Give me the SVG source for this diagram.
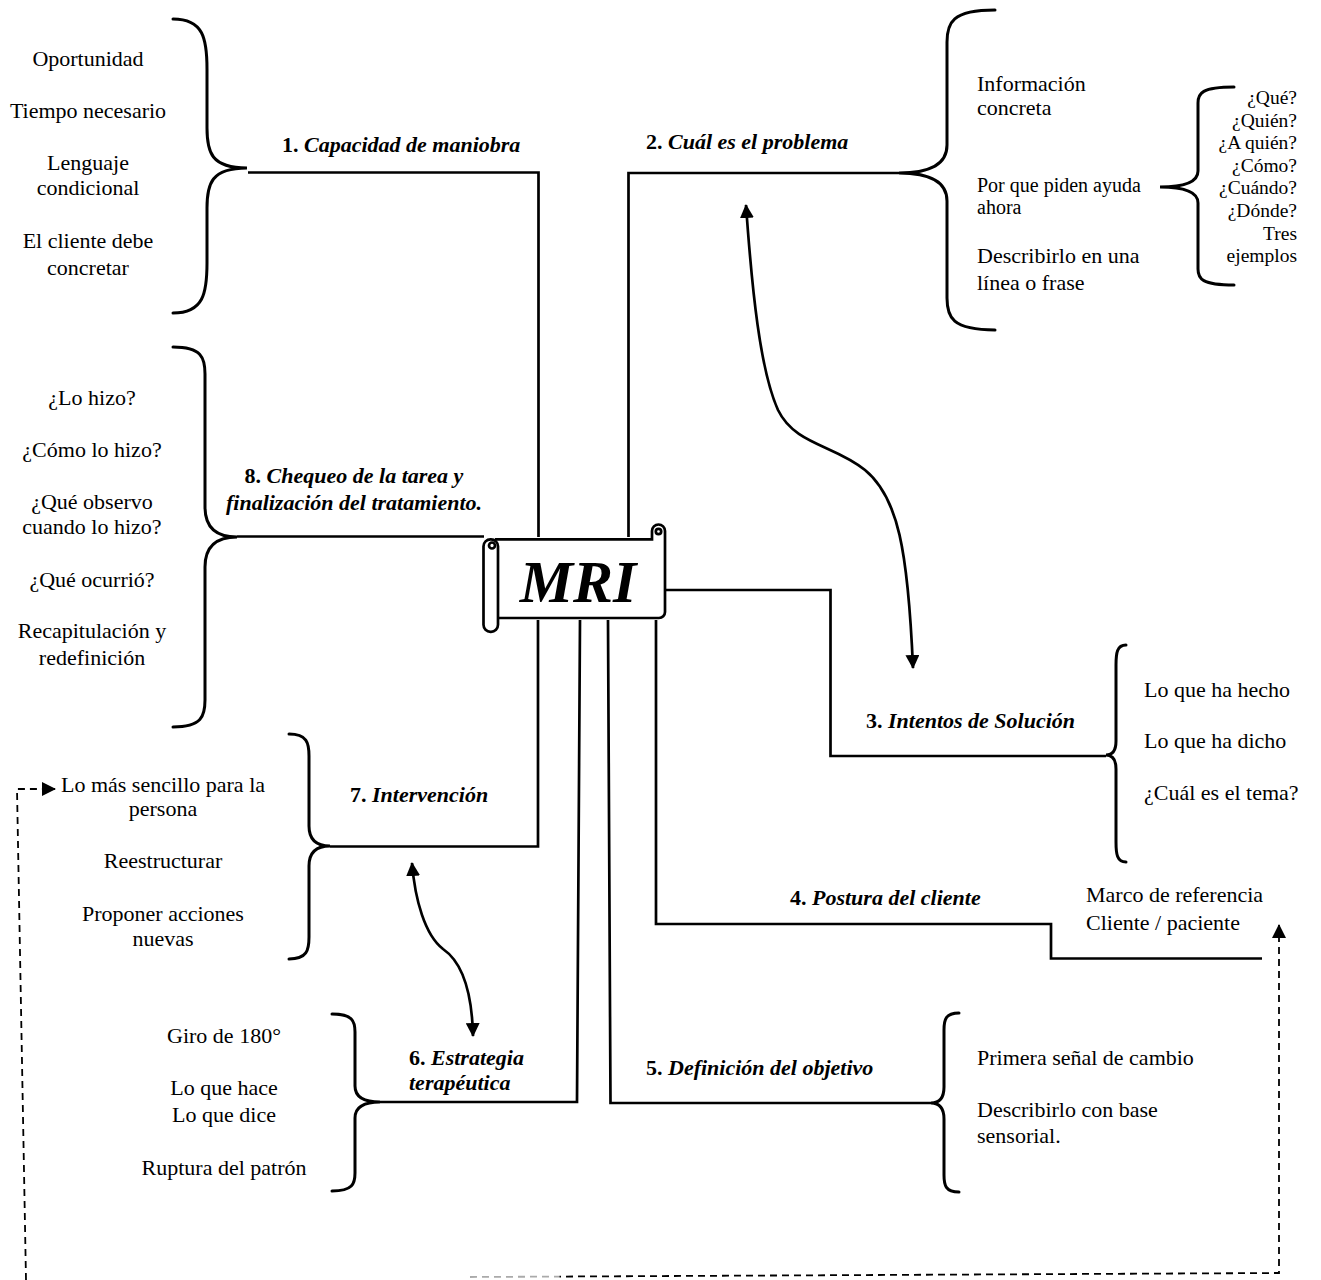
<svg xmlns="http://www.w3.org/2000/svg" width="1321" height="1280" viewBox="0 0 1321 1280">
<style>
.ln{fill:none;stroke:#000;stroke-width:2.7}
.br{fill:none;stroke:#000;stroke-width:3;stroke-linecap:round}
.dash{fill:none;stroke:#000;stroke-width:1.8;stroke-dasharray:7 5}
.t{font-family:"Liberation Serif","Times New Roman",serif;font-size:22px;fill:#000}
.c{text-anchor:middle}
.e{text-anchor:end}
.lab{font-weight:bold;font-style:italic}
.num{font-style:normal}
.sm{font-size:20px}
.xs{font-size:19.5px}
</style>
<defs>
<marker id="ah" viewBox="0 0 14 14" refX="13" refY="7" markerWidth="14" markerHeight="14" markerUnits="userSpaceOnUse" orient="auto-start-reverse">
<path d="M0,0 L14,7 L0,14 z" fill="#000"/>
</marker>
<linearGradient id="fade" gradientUnits="userSpaceOnUse" x1="470" y1="0" x2="560" y2="0">
<stop offset="0" stop-color="#aaa"/>
<stop offset="0.99" stop-color="#aaa"/>
<stop offset="1" stop-color="#000"/>
</linearGradient>
</defs>
<rect width="1321" height="1280" fill="#fff"/>

<g id="connectors">
<path class="ln" d="M248,172.5 L538.5,172.5 L538.5,537"/>
<path class="ln" d="M899,173 L628.5,173 L628.5,537"/>
<path class="ln" d="M237,536.5 L484,536.5"/>
<path class="ln" d="M665,590 L830.5,590 L830.5,756 L1106,756"/>
<path class="ln" d="M656,620 L656,924 L1051,924 L1051,958.5 L1262,958.5"/>
<path class="ln" d="M608,620 L610.5,1103 L931,1103"/>
<path class="ln" d="M580,620 L577,1102 L380,1102"/>
<path class="ln" d="M538,620 L538,846.5 L330,846.5"/>
<path class="ln" d="M746,205 C752,290 760,370 778,410 C795,445 835,445 865,470 C898,497 908,550 913,668" marker-start="url(#ah)" marker-end="url(#ah)"/>
<path class="ln" d="M412,863 C415,900 425,935 443,949 C462,962 472,990 473,1036" marker-start="url(#ah)" marker-end="url(#ah)"/>
<path class="dash" d="M26,1280 L17,789 L55,789" marker-end="url(#ah)"/>
<path class="dash" style="stroke:url(#fade)" d="M470,1277 L1279,1273 L1279,925" marker-end="url(#ah)"/>
</g>

<g id="mri">
<path d="M498,539.3 L652,539.3 L652,531 A6.5,6.5 0 0 1 665,531 L665,612 A6,6 0 0 1 659,618 L498,618 Z" fill="#fff" stroke="none"/>
<path class="ln" d="M495,539.3 L652,539.3 L652,531 A6.5,6.5 0 0 1 665,531 L665,612 A6,6 0 0 1 659,618 L498,618"/>
<rect class="ln" x="483.5" y="539.3" width="14.5" height="92.5" rx="7" ry="7" fill="#fff"/>
<circle class="ln" cx="492" cy="545.5" r="3" stroke-width="2"/>
<circle class="ln" cx="658.5" cy="531.5" r="2.7" stroke-width="2"/>
<text class="t lab c" x="578" y="602" style="font-size:60px">MRI</text>
</g>

<g id="n1">
<path class="br" d="M173,19 C203.6,19 207,39 207,69 L207,128 C207,152 211,168 247,168 C211,168 207,184 207,208 L207,263 C207,293 203.6,313 173,313"/>
<text class="t lab" x="282" y="152"><tspan class="num">1.</tspan> Capacidad de maniobra</text>
<text class="t c" x="88" y="66">Oportunidad</text>
<text class="t c" x="88" y="118">Tiempo necesario</text>
<text class="t c" x="88" y="170">Lenguaje</text>
<text class="t c" x="88" y="195">condicional</text>
<text class="t c" x="88" y="248">El cliente debe</text>
<text class="t c" x="88" y="275">concretar</text>
</g>

<g id="n2">
<path class="br" d="M995,10 C951.8,10 947,22.8 947,42 L947,145 C947,156.2 942.2,173 899,173 C942.2,173 947,189.8 947,201 L947,298 C947,317.2 951.8,330 995,330"/>
<text class="t lab" x="646" y="149"><tspan class="num">2.</tspan> Cuál es el problema</text>
<text class="t" x="977" y="91">Información</text>
<text class="t" x="977" y="115">concreta</text>
<text class="t sm" x="977" y="192">Por que piden ayuda</text>
<text class="t sm" x="977" y="214">ahora</text>
<text class="t" x="977" y="263">Describirlo en una</text>
<text class="t" x="977" y="290">línea o frase</text>
</g>

<g id="n2b">
<path class="br" d="M1234,87 C1201.6,87 1198,93.4 1198,103 L1198,171 C1198,177.4 1194.2,187 1160,187 C1194.2,187 1198,196.6 1198,203 L1198,269 C1198,278.6 1201.6,285 1234,285"/>
<text class="t xs e" x="1297" y="104">¿Qué?</text>
<text class="t xs e" x="1297" y="126.5">¿Quién?</text>
<text class="t xs e" x="1297" y="149">¿A quién?</text>
<text class="t xs e" x="1297" y="171.5">¿Cómo?</text>
<text class="t xs e" x="1297" y="194">¿Cuándo?</text>
<text class="t xs e" x="1297" y="217">¿Dónde?</text>
<text class="t xs e" x="1297" y="239.5">Tres</text>
<text class="t xs e" x="1297" y="262">ejemplos</text>
</g>

<g id="n3">
<path class="br" d="M1126,645 C1117,645 1116,653 1116,665 L1116,741 C1116,746.6 1115,755 1106,755 C1115,755 1116,763.4 1116,769 L1116,842 C1116,854 1117,862 1126,862"/>
<text class="t lab" x="866" y="728"><tspan class="num">3.</tspan> Intentos de Solución</text>
<text class="t" x="1144" y="697">Lo que ha hecho</text>
<text class="t" x="1144" y="748">Lo que ha dicho</text>
<text class="t" x="1144" y="800">¿Cuál es el tema?</text>
</g>

<g id="n4">
<text class="t lab" x="790" y="905"><tspan class="num">4.</tspan> Postura del cliente</text>
<text class="t" x="1086" y="902">Marco de referencia</text>
<text class="t" x="1086" y="930">Cliente / paciente</text>
</g>

<g id="n5">
<path class="br" d="M959,1013 C945.5,1013 944,1019.8 944,1030 L944,1087 C944,1093.4 942.7,1103 931,1103 C942.7,1103 944,1112.6 944,1119 L944,1175 C944,1185.2 945.5,1192 959,1192"/>
<text class="t lab" x="646" y="1075"><tspan class="num">5.</tspan> Definición del objetivo</text>
<text class="t" x="977" y="1065">Primera señal de cambio</text>
<text class="t" x="977" y="1117">Describirlo con base</text>
<text class="t" x="977" y="1143">sensorial.</text>
</g>

<g id="n6">
<path class="br" d="M332,1014 C352.7,1014 355,1021.2 355,1032 L355,1086 C355,1092.4 357.5,1102 380,1102 C357.5,1102 355,1111.6 355,1118 L355,1173 C355,1183.8 352.7,1191 332,1191"/>
<text class="t lab" x="409" y="1065"><tspan class="num">6.</tspan> Estrategia</text>
<text class="t lab" x="409" y="1090">terapéutica</text>
<text class="t c" x="224" y="1043">Giro de 180°</text>
<text class="t c" x="224" y="1095">Lo que hace</text>
<text class="t c" x="224" y="1122">Lo que dice</text>
<text class="t c" x="224" y="1175">Ruptura del patrón</text>
</g>

<g id="n7">
<path class="br" d="M289,734 C307,734 309,742.8 309,756 L309,826 C309,834 311.1,846 330,846 C311.1,846 309,858 309,866 L309,937 C309,950.2 307,959 289,959"/>
<text class="t lab" x="350" y="802"><tspan class="num">7.</tspan> Intervención</text>
<text class="t c" x="163" y="792">Lo más sencillo para la</text>
<text class="t c" x="163" y="816">persona</text>
<text class="t c" x="163" y="868">Reestructurar</text>
<text class="t c" x="163" y="921">Proponer acciones</text>
<text class="t c" x="163" y="946">nuevas</text>
</g>

<g id="n8">
<path class="br" d="M173,347 C201.8,347 205,357.8 205,374 L205,507 C205,519 208.2,537 237,537 C208.2,537 205,555 205,567 L205,700 C205,716.2 201.8,727 173,727"/>
<text class="t lab c" x="354" y="483"><tspan class="num">8.</tspan> Chequeo de la tarea y</text>
<text class="t lab c" x="354" y="510">finalización del tratamiento.</text>
<text class="t c" x="92" y="405">¿Lo hizo?</text>
<text class="t c" x="92" y="457">¿Cómo lo hizo?</text>
<text class="t c" x="92" y="509">¿Qué observo</text>
<text class="t c" x="92" y="534">cuando lo hizo?</text>
<text class="t c" x="92" y="587">¿Qué ocurrió?</text>
<text class="t c" x="92" y="638">Recapitulación y</text>
<text class="t c" x="92" y="665">redefinición</text>
</g>
</svg>
